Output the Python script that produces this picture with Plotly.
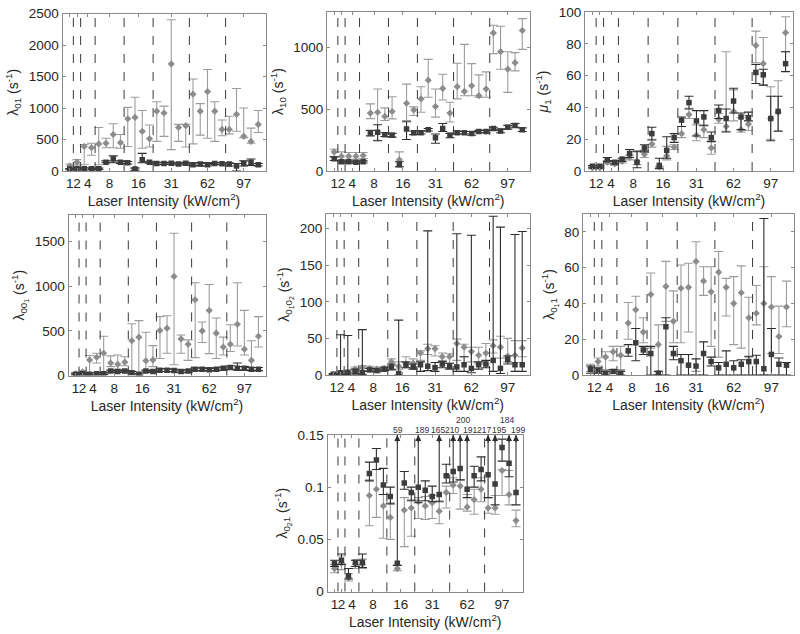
import plotly.graph_objects as go

# ---------------- data ----------------
group_labels = ["1", "2", "4", "8", "16", "31", "62", "97"]
group_sizes = [1, 1, 2, 4, 4, 5, 5, 5]

# panel 1: lambda_01
p1_grey_v = [80, 140, 390, 370, 430, 440, 580, 450, 830, 850, 630, 510, 950, 920, 1700, 690, 720, 1220, 950, 1260, 950, 660, 660, 900, 550, 470, 740]
p1_grey_lo = [40, 100, 100, 250, 100, 370, 370, 360, 390, 50, 360, 380, 470, 550, 340, 470, 380, 430, 570, 520, 470, 560, 590, 630, 530, 440, 610]
p1_grey_hi = [110, 180, 420, 440, 690, 520, 750, 580, 1010, 1170, 960, 730, 1100, 1030, 2400, 740, 740, 1460, 1070, 1610, 1100, 810, 870, 1310, 1000, 680, 960]
p1_dark_v = [30, 40, 35, 35, 35, 140, 190, 140, 130, 30, 180, 140, 120, 120, 125, 110, 125, 100, 110, 100, 120, 115, 110, 80, 120, 140, 100]
p1_dark_lo = [20, 25, 25, 25, 25, 130, 130, 120, 110, 10, 130, 125, 100, 105, 110, 95, 110, 85, 80, 80, 105, 100, 80, 0, 80, 90, 80]
p1_dark_hi = [40, 55, 45, 45, 45, 160, 240, 160, 150, 45, 280, 155, 140, 135, 140, 125, 140, 115, 135, 120, 135, 130, 130, 120, 160, 190, 120]

# panel 2: lambda_10
p2_grey_v = [155, 120, 120, 120, 125, 470, 477, 443, 483, 90, 550, 495, 585, 737, 523, 670, 470, 684, 646, 692, 611, 665, 1120, 968, 826, 879, 1140]
p2_grey_lo = [115, 90, 95, 95, 100, 425, 250, 410, 423, 35, 410, 450, 477, 598, 437, 576, 397, 585, 611, 611, 598, 598, 952, 826, 638, 812, 987]
p2_grey_hi = [177, 155, 150, 150, 150, 545, 665, 512, 603, 155, 705, 520, 684, 906, 665, 785, 558, 874, 1027, 871, 780, 804, 1182, 1174, 968, 960, 1236]
p2_dark_v = [100, 75, 75, 72, 75, 310, 315, 295, 290, 50, 340, 310, 310, 335, 270, 345, 290, 310, 310, 305, 320, 320, 345, 325, 355, 370, 335]
p2_dark_lo = [85, 65, 65, 62, 65, 285, 245, 280, 275, 35, 255, 295, 300, 325, 225, 320, 270, 300, 300, 290, 310, 310, 330, 310, 340, 355, 320]
p2_dark_hi = [115, 80, 80, 80, 82, 330, 375, 310, 305, 75, 400, 325, 325, 345, 300, 385, 305, 325, 320, 320, 330, 330, 355, 340, 370, 385, 350]

# panel 3: mu_1
p3_grey_v = [2, 2, 5.5, 4.5, 6, 8.5, 6, 10.5, 17, 2.5, 9.5, 15, 23.5, 35.5, 22.5, 26, 14.5, 32.5, 28, 37.5, 26, 29.5, 79, 67.5, 33, 37, 87]
p3_grey_lo = [1.5, 1.5, 4.5, 3.5, 5, 7, 4, 8.5, 15, 2, 7, 13.5, 21, 33, 19, 21, 10.5, 30, 25, 31.5, 24.5, 25.5, 68, 54, 20, 25.3, 75]
p3_grey_hi = [3, 2.5, 6.5, 5.5, 7, 10, 12, 13, 20, 3, 15.5, 16.5, 28, 39.5, 29, 29, 19, 36, 75, 51, 33.5, 35, 88, 84, 53, 56.8, 97]
p3_dark_v = [3, 3, 7, 5.5, 7.5, 11, 5.5, 14.5, 23.5, 3.5, 13, 21, 32, 43, 31.5, 34, 21, 38, 33, 44, 34, 33.5, 62, 60.5, 33, 37.5, 67.5]
p3_dark_lo = [2, 2, 6, 4.5, 6, 8.5, 2, 12, 19.5, 1.5, 8, 18, 28, 39, 22, 28.5, 18.5, 33, 24.5, 36.5, 26, 31.5, 55, 54, 19, 25, 62.5]
p3_dark_hi = [3.5, 3.5, 8.5, 6.5, 8, 13.5, 12.5, 16.5, 27.5, 8, 21.5, 23.5, 34, 47, 38, 38, 24.5, 41.5, 39, 52, 36.5, 37, 67, 64, 47, 47, 75]

# panel 4: lambda_00_1
p4_grey_v = [20, 40, 175, 205, 250, 140, 125, 150, 390, 430, 165, 175, 505, 530, 1110, 410, 350, 850, 500, 730, 475, 320, 350, 575, 295, 170, 440]
p4_grey_lo = [10, 30, 20, 140, 20, 100, 70, 110, 50, 20, 40, 100, 190, 250, 120, 250, 170, 200, 370, 245, 190, 230, 270, 330, 230, 60, 320]
p4_grey_hi = [30, 55, 225, 250, 440, 220, 230, 210, 580, 615, 485, 335, 660, 670, 1595, 455, 400, 1040, 600, 1020, 645, 430, 570, 1040, 730, 390, 660]
p4_dark_v = [15, 20, 15, 20, 20, 50, 45, 50, 30, 15, 50, 45, 60, 60, 55, 45, 50, 70, 70, 65, 70, 80, 90, 80, 80, 70, 70]
p4_dark_lo = [5, 10, 5, 10, 10, 40, 35, 40, 20, 5, 40, 35, 45, 45, 40, 30, 35, 55, 55, 50, 55, 60, 70, 60, 60, 55, 55]
p4_dark_hi = [25, 30, 25, 30, 30, 60, 55, 60, 45, 25, 60, 55, 75, 75, 70, 60, 65, 85, 85, 80, 85, 95, 110, 140, 100, 90, 90]

# panel 5: lambda_0_1 0_2
p5_grey_v = [1, 3, 4, 8, 10, 9, 8, 9, 18, 12, 15, 16, 30, 36, 36, 25, 25, 43, 38, 32, 27, 30, 40, 38, 26, 27, 37]
p5_grey_lo = [0.5, 2, 2, 5, 6, 6, 5, 6, 13, 8, 10, 10, 20, 28, 26, 18, 16, 20, 25, 18, 15, 15, 30, 23, 18, 17, 25]
p5_grey_hi = [2, 5, 7, 11, 13, 12, 11, 12, 22, 18, 25, 22, 33, 42, 40, 30, 29, 49, 42, 38, 38, 43, 48, 53, 50, 47, 47]
p5_dark_v = [1, 3, 3, 4, 3, 7, 6, 8, 11, 2, 14, 11, 14, 12, 10, 15, 12, 11, 14, 9, 14, 15, 20, 9, 21, 14, 14]
p5_dark_lo = [0.5, 1, 1, 2, 1, 5, 4, 6, 7, 0, 10, 8, 5, 6, 5, 10, 8, 5, 5, 3, 8, 10, 5, 2, 15, 5, 5]
p5_dark_hi = [2, 55, 54, 8, 62, 9, 8, 10, 15, 75, 18, 15, 18, 197, 17, 19, 16, 193, 25, 191, 18, 20, 217, 202, 26, 192, 196]

# panel 6: lambda_0_1
p6_grey_v = [4, 7.5, 10, 13, 11, 29, 36.5, 24, 45, 17, 49.5, 30, 48.5, 49, 63.5, 52.5, 46.5, 57.5, 49, 40, 46, 32, 34.5, 40, 38, 21.5, 38]
p6_grey_lo = [2, 5, 3, 8, 3, 20, 26, 18, 15, 0, 30, 18, 18, 24, 2, 44.5, 16, 10, 33, 17, 15, 10, 28, 0, 12, 12, 27]
p6_grey_hi = [6, 9.5, 13, 16, 16, 40.5, 44, 32, 57, 28, 63.5, 47, 61.5, 62.5, 74.5, 60.5, 60.5, 69, 54, 55, 61, 43.5, 50, 60.5, 55, 38.5, 52.5]
p6_dark_v = [3, 2.5, 1, 2, 1, 13.5, 18, 14, 12, 1, 27, 12, 8, 5.5, 5, 12, 7.5, 4, 6, 4, 6, 7.5, 7.5, 3.5, 11.5, 6, 5.5]
p6_dark_lo = [1, 1, 0, 1, 0, 10.5, 8, 11.5, 0, 0, 0, 8.5, 0, 0, 0, 0, 5, 0, 0, 0, 0, 0, 0, 0, 0, 0, 0]
p6_dark_hi = [5, 4, 2, 3, 2, 17, 26, 16, 16, 2, 32, 16, 11.5, 11.5, 9, 18.5, 10, 7, 13.5, 8, 8.5, 10.5, 11, 87.5, 26, 9.5, 7]

# panel 7: lambda_0_2 1
p7_grey_v = [0.022, 0.027, 0.013, 0.026, 0.026, 0.092, 0.098, 0.082, 0.071, 0.022, 0.078, 0.080, 0.086, 0.082, 0.085, 0.077, 0.095, 0.102, 0.101, 0.081, 0.088, 0.098, 0.080, 0.080, 0.116, 0.093, 0.068]
p7_grey_lo = [0.018, 0.021, 0.010, 0.022, 0.022, 0.063, 0.071, 0.051, 0.050, 0.020, 0.043, 0.053, 0.070, 0.069, 0.070, 0.065, 0.080, 0.094, 0.079, 0.077, 0.074, 0.086, 0.075, 0.074, 0.092, 0.083, 0.062]
p7_grey_hi = [0.026, 0.034, 0.017, 0.030, 0.031, 0.107, 0.117, 0.093, 0.085, 0.025, 0.090, 0.088, 0.090, 0.091, 0.092, 0.087, 0.101, 0.109, 0.107, 0.093, 0.098, 0.109, 0.090, 0.092, 0.117, 0.116, 0.078]
p7_dark_v = [0.027, 0.030, 0.015, 0.028, 0.028, 0.113, 0.126, 0.102, 0.091, 0.027, 0.104, 0.095, 0.100, 0.097, 0.091, 0.093, 0.111, 0.115, 0.118, 0.098, 0.111, 0.117, 0.112, 0.103, 0.138, 0.123, 0.095]
p7_dark_lo = [0.024, 0.026, 0.012, 0.024, 0.023, 0.106, 0.117, 0.093, 0.084, 0.025, 0.098, 0.087, 0.085, 0.087, 0.086, 0.086, 0.104, 0.105, 0.107, 0.090, 0.100, 0.106, 0.090, 0.083, 0.125, 0.110, 0.083]
p7_dark_hi = [0.030, 0.036, 0.022, 0.030, 0.036, 0.124, 0.137, 0.118, 0.100, 59, 0.115, 0.100, 189, 0.106, 0.101, 165, 0.122, 210, 200, 191, 0.120, 0.129, 217, 195, 0.146, 184, 199]

# ---------------- figure ----------------
n = sum(group_sizes)
xs = list(range(1, n + 1))
bounds = []
centers = []
start = 1
for s in group_sizes:
    centers.append(start + (s - 1) / 2)
    start += s
    bounds.append(start - 0.5)
bounds = bounds[:-1]

W, H = 800, 634
DARK_M, DARK_E = "#3c3c3c", "#2e2e2e"
GREY_M, GREY_E = "#8c8c8c", "#9c9c9c"
FONT = "Liberation Sans, Arial, Helvetica, sans-serif"
AX_COL = "#8a8a8a"
TXT_COL = "#262626"

panels = [
    ((p1_grey_v, p1_grey_lo, p1_grey_hi), (p1_dark_v, p1_dark_lo, p1_dark_hi),
     "λ<sub>01</sub> (s<sup>-1</sup>)", [0, 2500], [0, 500, 1000, 1500, 2000, 2500], None, (62.5, 265.5, 13.5, 171)),
    ((p2_grey_v, p2_grey_lo, p2_grey_hi), (p2_dark_v, p2_dark_lo, p2_dark_hi),
     "λ<sub>10</sub> (s<sup>-1</sup>)", [0, 1290], [0, 500, 1000], None, (327, 529.5, 12, 171)),
    ((p3_grey_v, p3_grey_lo, p3_grey_hi), (p3_dark_v, p3_dark_lo, p3_dark_hi),
     "<i>μ</i><sub>1</sub> (s<sup>-1</sup>)", [0, 100], [0, 20, 40, 60, 80, 100], None, (585, 793, 12, 171)),
    ((p4_grey_v, p4_grey_lo, p4_grey_hi), (p4_dark_v, p4_dark_lo, p4_dark_hi),
     "λ<sub>00<sub>1</sub></sub> (s<sup>-1</sup>)", [0, 1800], [0, 500, 1000, 1500], None, (68.5, 265.5, 215, 375.5)),
    ((p5_grey_v, p5_grey_lo, p5_grey_hi), (p5_dark_v, p5_dark_lo, p5_dark_hi),
     "λ<sub>0<sub>1</sub>0<sub>2</sub></sub> (s<sup>-1</sup>)", [0, 220], [0, 50, 100, 150, 200], None, (326, 529.5, 214, 375)),
    ((p6_grey_v, p6_grey_lo, p6_grey_hi), (p6_dark_v, p6_dark_lo, p6_dark_hi),
     "λ<sub>0<sub>1</sub>1</sub> (s<sup>-1</sup>)", [0, 90], [0, 20, 40, 60, 80], None, (583, 794, 214, 375)),
    ((p7_grey_v, p7_grey_lo, p7_grey_hi), (p7_dark_v, p7_dark_lo, p7_dark_hi),
     "λ<sub>0<sub>2</sub>1</sub> (s<sup>-1</sup>)", [0, 0.15], [0, 0.05, 0.1, 0.15], ["0", "0.05", "0.1", "0.15"], (327.5, 523, 435, 591.5)),
]

fig = go.Figure()
layout = dict(
    template="none",
    width=W, height=H, margin=dict(l=0, r=0, t=0, b=0, autoexpand=False),
    paper_bgcolor="white", plot_bgcolor="white", showlegend=False,
    font=dict(family=FONT, size=13, color=TXT_COL),
)
shapes = []
annotations = []

for k, (grey, dark, ytitle, yr, ytv, ytt, box) in enumerate(panels):
    idx = "" if k == 0 else str(k + 1)
    xa, ya = "x" + idx, "y" + idx
    x0, x1, y0, y1 = box
    for series, mcol, ecol, sym, msz in ((grey, GREY_M, GREY_E, "diamond", 5.5), (dark, DARK_M, DARK_E, "square", 5.5)):
        v, lo, hi = series
        fig.add_trace(go.Scatter(
            x=xs, y=v, mode="markers", xaxis=xa, yaxis=ya,
            marker=dict(symbol=sym, size=msz, color=mcol, line=dict(width=0)),
            error_y=dict(type="data", symmetric=False,
                         array=[h - a for h, a in zip(hi, v)],
                         arrayminus=[a - l for a, l in zip(v, lo)],
                         color=ecol, thickness=1.1, width=4.5),
            cliponaxis=True,
        ))
    layout["xaxis" + idx] = dict(
        domain=[x0 / W, x1 / W], anchor=ya, range=[0, n + 1], automargin=False,
        tickmode="array", tickvals=centers, ticktext=group_labels, tickangle=0,
        ticks="inside", ticklen=3, tickcolor=AX_COL, showline=True, linecolor=AX_COL, linewidth=1,
        mirror="allticks", showgrid=False, zeroline=False,
        tickfont=dict(size=13.5, color=TXT_COL),
        title=dict(text="Laser Intensity (kW/cm<sup>2</sup>)", font=dict(size=14, color=TXT_COL), standoff=2),
    )
    yax = dict(
        domain=[1 - y1 / H, 1 - y0 / H], anchor=xa, range=yr, automargin=False,
        tickmode="array", tickvals=ytv,
        ticks="inside", ticklen=3, tickcolor=AX_COL, showline=True, linecolor=AX_COL, linewidth=1,
        mirror="allticks", showgrid=False, zeroline=False,
        tickfont=dict(size=13.5, color=TXT_COL),
        title=dict(text=ytitle, font=dict(size=14, color=TXT_COL), standoff=6),
    )
    if ytt is not None:
        yax["ticktext"] = ytt
    layout["yaxis" + idx] = yax
    for b in bounds:
        shapes.append(dict(type="line", xref=xa, yref=ya + " domain", x0=b, x1=b, y0=0, y1=1,
                           line=dict(color="#3a3a3a", width=1, dash="dash")))

# arrows for off-scale upper error bars in the last panel
ytop = panels[6][3][1]
raised_x = [19, 26]
label_xshift = {10: 1, 13: 4, 16: -1, 18: -1, 19: 3, 20: 3, 23: -4, 24: 4, 26: -2, 27: 2}
for i, hi_val in enumerate(p7_dark_hi):
    if hi_val > ytop:
        annotations.append(dict(xref="x7", yref="y7", x=xs[i], y=ytop, text="", showarrow=True,
                                ax=0, ay=9, arrowhead=2, arrowsize=1.1, arrowwidth=1.1,
                                arrowcolor="#2e2e2e"))
        annotations.append(dict(xref="x7", yref="y7", x=xs[i], y=ytop, text=str(int(hi_val)),
                                showarrow=False, yanchor="bottom",
                                xshift=label_xshift.get(xs[i], 0),
                                yshift=8 if xs[i] in raised_x else -2,
                                font=dict(size=8.5, color="#333333")))

layout["shapes"] = shapes
layout["annotations"] = annotations
fig.update_layout(**layout)
fig.write_html("out.html", config={"displayModeBar": False},
               post_script="document.body.style.margin='0';document.body.style.overflow='hidden';")
